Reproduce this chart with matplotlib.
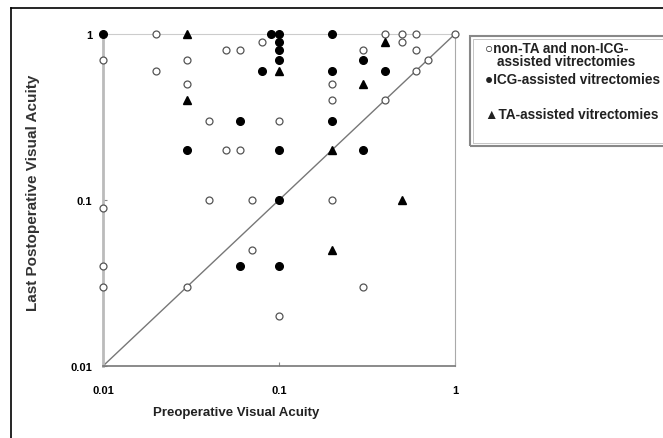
import matplotlib.pyplot as plt
from matplotlib.lines import Line2D
from matplotlib.patches import Rectangle

plt.rcParams['font.family'] = ['Liberation Sans', 'DejaVu Sans']

# non-TA and non-ICG-assisted vitrectomies (open circles)
open_pre = [0.01, 0.01, 0.01, 0.01, 0.02, 0.02, 0.03, 0.03, 0.03, 0.05, 0.06, 0.04,
            0.04, 0.05, 0.06, 0.1, 0.07, 0.07, 0.1, 0.2, 0.3, 0.2, 0.2, 0.3, 0.4,
            0.5, 0.5, 0.6, 0.6, 0.7, 0.6, 0.4, 1.0, 0.08]
open_post = [0.7, 0.09, 0.04, 0.03, 1.0, 0.6, 0.7, 0.5, 0.03, 0.8, 0.8, 0.3,
             0.1, 0.2, 0.2, 0.3, 0.1, 0.05, 0.02, 0.1, 0.03, 0.5, 0.4, 0.8, 1.0,
             1.0, 0.9, 1.0, 0.8, 0.7, 0.6, 0.4, 1.0, 0.9]

# ICG-assisted vitrectomies (filled circles)
icg_pre = [0.01, 0.03, 0.06, 0.1, 0.08, 0.09, 0.1, 0.1, 0.1, 0.1, 0.2, 0.2,
           0.3, 0.4, 0.2, 0.3, 0.1, 0.06, 0.1]
icg_post = [1.0, 0.2, 0.3, 0.2, 0.6, 1.0, 1.0, 0.9, 0.8, 0.7, 1.0, 0.6,
            0.7, 0.6, 0.3, 0.2, 0.1, 0.04, 0.04]

# TA-assisted vitrectomies (filled triangles)
ta_pre = [0.03, 0.03, 0.1, 0.5, 0.2, 0.4, 0.3, 0.2]
ta_post = [1.0, 0.4, 0.6, 0.1, 0.05, 0.9, 0.5, 0.2]

ticks = [0.01, 0.1, 1]
tick_labels = ['0.01', '0.1', '1']

fig = plt.figure(figsize=(6.63, 4.39), dpi=100)
ax = fig.add_axes([103 / 663, 1 - 367 / 439, 352 / 663, 332 / 439])
ax.set_xscale('log')
ax.set_yscale('log')
ax.set_xlim(0.01, 1)
ax.set_ylim(0.01, 1)

# line of equality
ax.plot([0.01, 1], [0.01, 1], color='#777777', lw=1.0, zorder=1)

ax.plot(open_pre, open_post, 'o', ms=5, mfc='white', mec='#555555', mew=0.9,
        clip_on=False, zorder=3)
ax.plot(icg_pre, icg_post, 'o', ms=5.5, color='black', clip_on=False, zorder=4)
ax.plot(ta_pre, ta_post, '^', ms=5.5, color='black', clip_on=False, zorder=4)

ax.set_xticks(ticks)
ax.set_xticklabels(tick_labels)
ax.set_yticks(ticks)
ax.set_yticklabels(tick_labels)
ax.minorticks_off()
ax.tick_params(labelsize=8, length=3, direction='in', color='#888888')
for lab in ax.get_xticklabels() + ax.get_yticklabels():
    lab.set_fontweight('bold')
ax.tick_params(axis='x', pad=14)
ax.tick_params(axis='y', pad=8)

ax.spines['left'].set_color('#bbbbbb')
ax.spines['left'].set_linewidth(2.0)
ax.spines['top'].set_color('#cccccc')
ax.spines['right'].set_color('#aaaaaa')
ax.spines['bottom'].set_color('#777777')
ax.spines['bottom'].set_linewidth(1.2)

ax.set_xlabel('Preoperative Visual Acuity', fontsize=9.5, fontweight='bold', color='#222222')
ax.xaxis.set_label_coords(0.378, -0.12)
ax.set_ylabel('Last Postoperative Visual Acuity', fontsize=11, fontweight='bold',
              color='#333333')
ax.yaxis.set_label_coords(-0.179, 0.524)

# outer frame (left and top edges visible)
fig.add_artist(Line2D([11 / 663, 11 / 663], [0, 1 - 9 / 439], color='black', lw=1.2))
fig.add_artist(Line2D([11 / 663, 1], [1 - 9 / 439, 1 - 9 / 439], color='black', lw=1.2))

# legend box, running off the right edge
fig.add_artist(Rectangle((470 / 663, 1 - 147 / 439), 0.4, 110 / 439,
                         fill=False, ec='#888888', lw=1.5, transform=fig.transFigure))
fig.add_artist(Rectangle((473 / 663, 1 - 144 / 439), 0.4, 104 / 439,
                         fill=False, ec='#bbbbbb', lw=0.6, transform=fig.transFigure))

leg_kw = dict(fontsize=9.8, fontweight='bold', color='#222222', va='center', ha='left')
fig.text(485 / 663, 1 - 49 / 439, '\u25cbnon-TA and non-ICG-', **leg_kw)
fig.text(497 / 663, 1 - 62 / 439, 'assisted vitrectomies', **leg_kw)
fig.text(485 / 663, 1 - 80 / 439, '\u25cfICG-assisted vitrectomies', **leg_kw)
fig.text(485 / 663, 1 - 115 / 439, '\u25b2TA-assisted vitrectomies', **leg_kw)

fig.savefig('out.png', dpi=100)
